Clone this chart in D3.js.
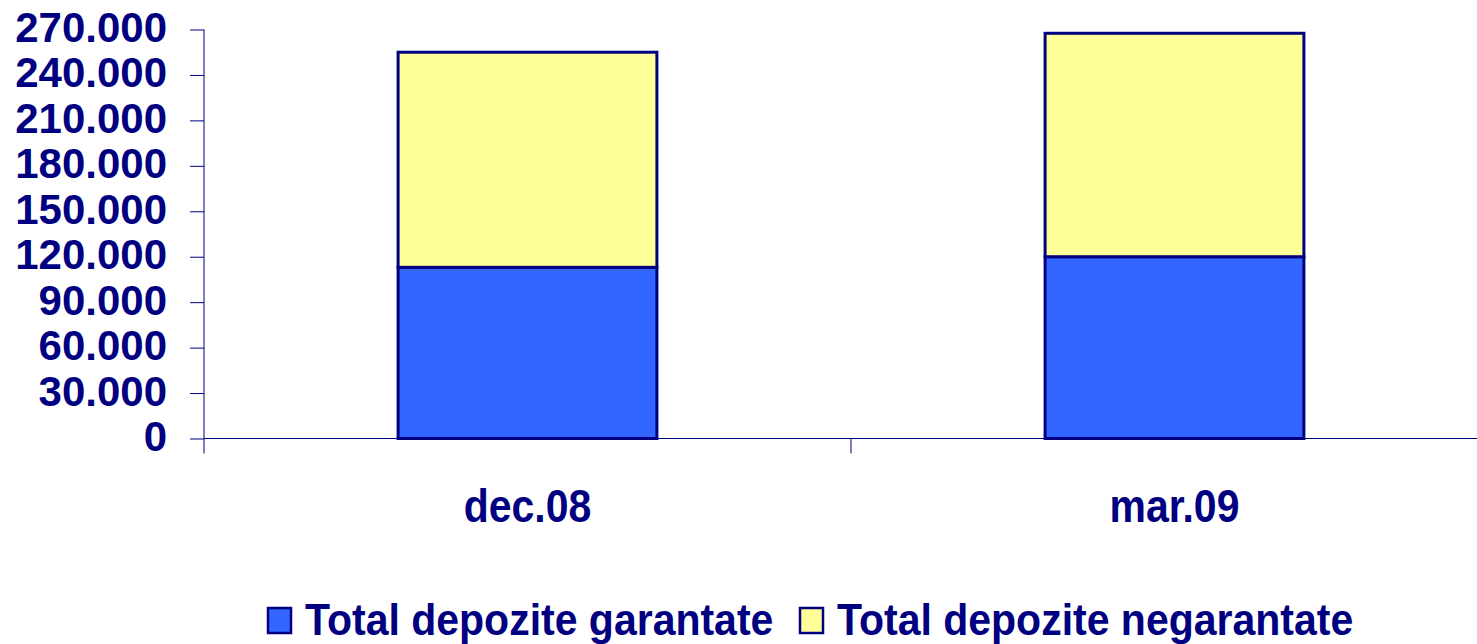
<!DOCTYPE html>
<html>
<head>
<meta charset="utf-8">
<script src="https://cdn.jsdelivr.net/npm/d3@7"></script>
<style>
  body { margin: 0; background: #fff; }
  svg { display: block; }
  text { font-family: "Liberation Sans", Arial, sans-serif; font-weight: bold; fill: #000080; }
</style>
</head>
<body>
<svg width="1477" height="644"></svg>
<script>
var categories = ['dec.08', 'mar.09'];
var seriesNames = ['Total depozite garantate', 'Total depozite negarantate'];
var garantate = [113000, 120000];
var negarantate = [142000, 147500];
var yTicks = [0, 30000, 60000, 90000, 120000, 150000, 180000, 210000, 240000, 270000];

var svg = d3.select('svg');
var navy = '#000080';
var colors = ['#3366FF', '#FFFF99'];

var plot = {l: 204, r: 1498, t: 29.5, b: 438.5};

var xScale = d3.scaleBand()
    .domain(categories)
    .range([plot.l, plot.r])
    .paddingInner(0)
    .paddingOuter(0);

var yScale = d3.scaleLinear()
    .domain([0, 270000])
    .range([plot.b, plot.t]);

var rows = categories.map(function(c, i) {
    return {cat: c, garantate: garantate[i], negarantate: negarantate[i]};
});
var stack = d3.stack().keys(['garantate', 'negarantate']);
var stacked = stack(rows);

var barW = xScale.bandwidth() * 0.4;

// y axis
var yAxis = d3.axisLeft(yScale)
    .tickValues(yTicks)
    .tickSize(14)
    .tickFormat(function(d) { return d === 0 ? '0' : d3.format(',')(d).replace(/,/g, '.'); });

var yg = svg.append('g')
    .attr('class', 'y axis')
    .attr('transform', 'translate(' + plot.l + ',0)')
    .call(yAxis);
yg.select('.domain').attr('stroke', navy).attr('d', 'M0,' + plot.t + 'V' + plot.b);
yg.selectAll('.tick line').attr('stroke', navy);
yg.selectAll('.tick text')
    .attr('x', -37)
    .attr('dy', null)
    .attr('y', 12)
    .style('font-size', '42px');

// x axis
var xAxis = d3.axisBottom(xScale)
    .tickSize(0)
    .tickFormat('');
var xg = svg.append('g')
    .attr('class', 'x axis')
    .attr('transform', 'translate(0,' + plot.b + ')')
    .call(xAxis);
xg.select('.domain').attr('stroke', navy).attr('d', 'M' + plot.l + ',0H' + plot.r);
xg.selectAll('.tick').remove();

// category separators
var seps = [plot.l].concat(categories.slice(1).map(function(c) { return xScale(c); }));
svg.selectAll('.sep')
    .data(seps)
    .enter()
    .append('line')
    .attr('class', 'sep')
    .attr('x1', function(d) { return d; })
    .attr('x2', function(d) { return d; })
    .attr('y1', plot.b)
    .attr('y2', plot.b + 15)
    .attr('stroke', navy);

// labels are a bit taller than wide in the original
svg.selectAll('.x-label')
    .data(categories)
    .enter()
    .append('text')
    .attr('class', 'x-label')
    .attr('transform', function(d) {
        return 'translate(' + (xScale(d) + xScale.bandwidth() / 2) + ',522) scale(1,1.12)';
    })
    .attr('text-anchor', 'middle')
    .style('font-size', '41px')
    .text(function(d) { return d; });

// bars
var layers = svg.selectAll('.layer')
    .data(stacked)
    .enter()
    .append('g')
    .attr('class', 'layer')
    .attr('fill', function(d, i) { return colors[i]; });

layers.selectAll('rect')
    .data(function(d) { return d; })
    .enter()
    .append('rect')
    .attr('x', function(d) { return xScale(d.data.cat) + (xScale.bandwidth() - barW) / 2; })
    .attr('width', barW)
    .attr('y', function(d) { return yScale(d[1]); })
    .attr('height', function(d) { return yScale(d[0]) - yScale(d[1]); })
    .attr('stroke', navy)
    .attr('stroke-width', 3);

// legend
var legendX = [268, 800];
var legend = svg.selectAll('.legend')
    .data(seriesNames)
    .enter()
    .append('g')
    .attr('class', 'legend')
    .attr('transform', function(d, i) { return 'translate(' + legendX[i] + ',608)'; });

legend.append('rect')
    .attr('width', 23)
    .attr('height', 25)
    .attr('fill', function(d, i) { return colors[i]; })
    .attr('stroke', navy)
    .attr('stroke-width', 2.5);

legend.append('text')
    .attr('transform', 'translate(37,27) scale(1,1.08)')
    .style('font-size', '41px')
    .text(function(d) { return d; });
</script>
</body>
</html>
